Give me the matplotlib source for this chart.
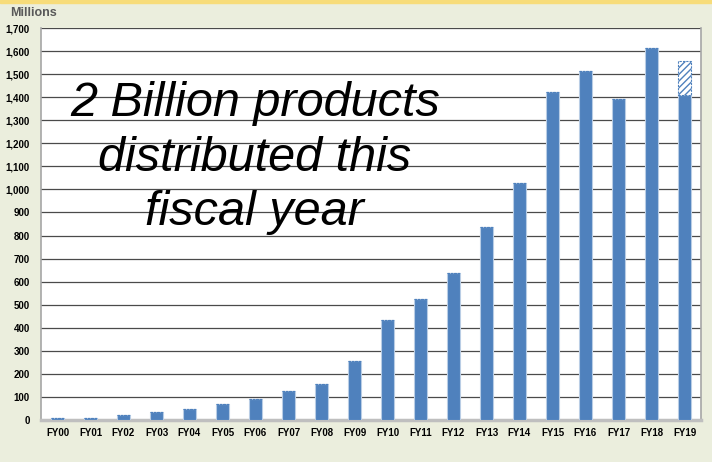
import matplotlib.pyplot as plt
import numpy as np

years = ["FY00", "FY01", "FY02", "FY03", "FY04", "FY05", "FY06", "FY07", "FY08", "FY09",
         "FY10", "FY11", "FY12", "FY13", "FY14", "FY15", "FY16", "FY17", "FY18", "FY19"]
distributed = [8, 10, 20, 35, 46, 69, 91, 127, 156, 256,
               434, 525, 637, 837, 1028, 1422, 1513, 1393, 1612, 1410]
# projected remainder for the current year (hatched part on top of FY19)
projected = [0] * 19 + [148]
yticks = list(range(0, 1701, 100))

fig = plt.figure(figsize=(7.12, 4.62), dpi=100)
fig.patch.set_facecolor("#EBEEDD")
ax = fig.add_axes([41 / 712, 1 - 420 / 462, 660 / 712, 392 / 462])
ax.set_facecolor("white")

x = np.arange(len(years))
ax.bar(x, distributed, width=0.42, color="#4F81BD", edgecolor="#B9CDE5", linewidth=0.8, zorder=3)
ax.bar(x, projected, width=0.42, bottom=distributed, color="white", edgecolor="#4F81BD",
       hatch="/////", linewidth=0.8, linestyle=(0, (2, 1)), zorder=3)

ax.set_xlim(-0.5, len(years) - 0.5)
ax.set_ylim(0, 1700)
ax.set_yticks(yticks)
ax.set_yticklabels([f"{v:,}" for v in yticks])
ax.set_xticks(x)
ax.set_xticklabels(years)
ax.yaxis.grid(True, color="#4A4A4A", linewidth=0.9, zorder=0)
ax.tick_params(axis="both", length=0, labelsize=7, pad=6)
for lbl in ax.get_xticklabels() + ax.get_yticklabels():
    lbl.set_fontweight("bold")
    lbl.set_family("Liberation Sans")
ax.tick_params(axis="y", pad=8)

for side in ["left", "right"]:
    ax.spines[side].set_color("#A6A6A6")
    ax.spines[side].set_linewidth(1.2)
ax.spines["top"].set_visible(False)
ax.spines["bottom"].set_color("#BFBFBF")
ax.spines["bottom"].set_linewidth(2.5)

fig.text(10 / 712, 1 - 13 / 462, "Millions", fontsize=9, fontweight="bold", color="#595959",
         family="Liberation Sans", va="center")
ax.text(0.324, 0.668, "2 Billion products\ndistributed this\nfiscal year", transform=ax.transAxes,
        fontsize=35, style="italic", family="Liberation Sans", ha="center", va="center",
        linespacing=1.27, zorder=4)

# thin yellow band along the top edge
fig.add_artist(plt.Rectangle((0, 1 - 3 / 462), 1, 3 / 462, transform=fig.transFigure,
                             color="#F7DC7A", zorder=0))

fig.savefig("out.png", dpi=100, facecolor=fig.get_facecolor())
